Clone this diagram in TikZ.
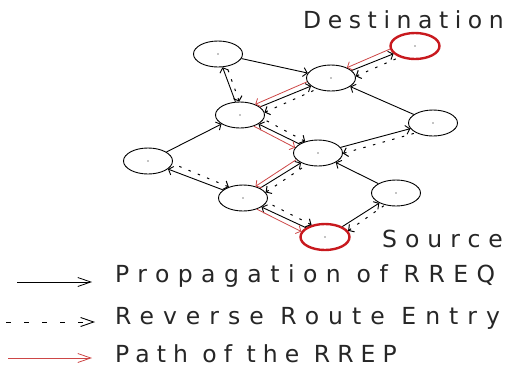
\documentclass[tikz,border=0pt]{standalone}
\usepackage{fontspec}
\usetikzlibrary{shapes.geometric,arrows.meta,calc}
\newfontfamily\lblfont{DejaVu Sans}
\definecolor{nodered}{RGB}{200,25,30}
\definecolor{linered}{RGB}{205,70,70}
\newcommand\rtline[4]{\draw[#1] let \p1=($(#3)-(#2)$), \n1={atan2(\y1,\x1)+(#4)}, \n2={atan2(\y1,\x1)+180-(#4)} in (#2.\n1) -- (#3.\n2);}
\tikzset{
  host/.style={draw=black, ellipse, line width=0.9pt, minimum width=49pt, minimum height=26pt, inner sep=0pt},
  endhost/.style={host, draw=nodered, line width=2.4pt},
  req/.style={draw=black, line width=0.9pt},
  rev/.style={draw=black, line width=1pt, dash pattern=on 2.5pt off 7.5pt},
  rrep/.style={draw=linered, line width=0.8pt},
  legrev/.style={draw=black, line width=0.9pt, dash pattern=on 5pt off 13pt},
  legtip/.style={-{Straight Barb[length=13pt,width=9pt]}},
  lbl/.style={inner sep=0pt, anchor=base west, text=black!85},
  >={Straight Barb[length=4pt,width=9pt]}
}
\newcommand\lfont[1]{\lblfont\fontsize{23.5}{28}\selectfont\addfontfeatures{LetterSpace=#1}}
\begin{document}
\begin{tikzpicture}[x=1pt,y=-1pt]
\useasboundingbox (0,0) rectangle (509,368);
% hosts
\node[host]    (A) at (218,54)  {};
\node[endhost] (D) at (415,46)  {};
\node[host]    (B) at (331,78)  {};
\node[host]    (C) at (240,115) {};
\node[host]    (E) at (433,123) {};
\node[host]    (F) at (318,153) {};
\node[host]    (G) at (148,161) {};
\node[host]    (H) at (243,198) {};
\node[host]    (I) at (396,193) {};
\node[endhost] (S) at (325,237) {};
\foreach \n in {A,D,B,C,E,F,G,H,I,S} \fill (\n) circle (0.6pt);
% path edges: RREQ, reverse entry, RREP
\foreach \u/\v in {S/H,H/F,F/C,C/B,B/D}{
  \rtline{req,->}{\u}{\v}{0}
  \rtline{rev,<-}{\u}{\v}{-16}
  \rtline{rrep,<-}{\u}{\v}{13}
}
% RREQ with reverse entry
\foreach \u/\v in {C/A,H/G,F/E,S/I}{
  \rtline{req,->}{\u}{\v}{0}
  \rtline{rev,<-}{\u}{\v}{-16}
}
% RREQ only
\foreach \u/\v in {A/B,E/B,G/C,I/F}{
  \rtline{req,->}{\u}{\v}{0}
}
% labels
\node[lbl, font=\lfont{28}] (dl) at (303,28) {Destination};
\node[lbl, font=\lfont{34}] (sl) at (382,247) {Source};
% legend
\coordinate (l1a) at (17,282);  \coordinate (l1b) at (92,282);
\coordinate (l2a) at (6,322);   \coordinate (l2b) at (95,322);
\coordinate (l3a) at (8,358);   \coordinate (l3b) at (92,358);
\draw[req, line width=0.8pt, legtip] (l1a) -- (l1b);
\draw[legrev, legtip] (l2a) -- (l2b);
\draw[rrep, line width=0.8pt, legtip] (l3a) -- (l3b);
\node[lbl, font=\lfont{36}] (t1) at (115,282) {Propagation of RREQ};
\node[lbl, font=\lfont{38.5}] (t2) at (115,324) {Reverse Route Entry};
\node[lbl, font=\lfont{30}] (t3) at (115,362) {Path of the RREP};
\end{tikzpicture}
\end{document}
